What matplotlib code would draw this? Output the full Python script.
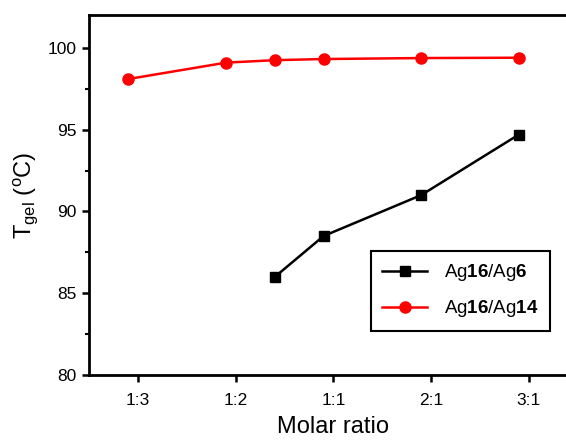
import matplotlib
matplotlib.use("Agg")
import matplotlib.pyplot as plt
from matplotlib.ticker import MultipleLocator

plt.rcParams["font.family"] = ["Liberation Sans", "DejaVu Sans"]
plt.rcParams["mathtext.fontset"] = "custom"
plt.rcParams["mathtext.rm"] = "Liberation Sans"
plt.rcParams["mathtext.it"] = "Liberation Sans:italic"
plt.rcParams["mathtext.bf"] = "Liberation Sans:bold"

# tick categories
tick_pos = [1, 2, 3, 4, 5]
tick_labels = ["1:3", "1:2", "1:1", "2:1", "3:1"]

# Ag16/Ag6
x_ag6 = [2.4, 2.9, 3.9, 4.9]
t_ag6 = [86.0, 88.5, 91.0, 94.7]

# Ag16/Ag14
x_ag14 = [0.9, 1.9, 2.4, 2.9, 3.9, 4.9]
t_ag14 = [98.1, 99.1, 99.25, 99.32, 99.38, 99.4]

fig = plt.figure(figsize=(5.66, 4.47), dpi=100)
ax = fig.add_axes([0.158, 0.161, 0.862, 0.805])

ax.plot(x_ag6, t_ag6, color="black", marker="s", markersize=7, lw=1.8,
        label=r"Ag$\mathbf{16}$/Ag$\mathbf{6}$")
ax.plot(x_ag14, t_ag14, color="red", marker="o", markersize=8, lw=1.8,
        label=r"Ag$\mathbf{16}$/Ag$\mathbf{14}$")

ax.set_xlim(0.5, 5.5)
ax.set_ylim(80, 102)
ax.set_xticks(tick_pos)
ax.set_xticklabels(tick_labels)
ax.yaxis.set_major_locator(MultipleLocator(5))
ax.yaxis.set_minor_locator(MultipleLocator(2.5))

for s in ax.spines.values():
    s.set_linewidth(2)
ax.tick_params(axis="both", which="major", direction="out", length=5, width=1.8,
               labelsize=12.5, colors="black")
ax.tick_params(axis="y", which="minor", direction="out", length=3, width=1.5)
ax.tick_params(axis="x", pad=8)
ax.tick_params(axis="y", pad=4)

ax.set_xlabel("Molar ratio", fontsize=17, labelpad=6)
ax.set_ylabel(r"T$_{\mathrm{gel}}$ ($^{\mathrm{o}}$C)", fontsize=17, labelpad=6)

leg = ax.legend(loc="upper left", bbox_to_anchor=(0.577, 0.344), fontsize=13.5,
                fancybox=False, framealpha=1, edgecolor="black",
                handlelength=2.4, labelspacing=0.8, borderpad=0.6,
                handletextpad=0.9, borderaxespad=0)
leg.get_frame().set_linewidth(1.5)

fig.savefig("out.png", dpi=100)
